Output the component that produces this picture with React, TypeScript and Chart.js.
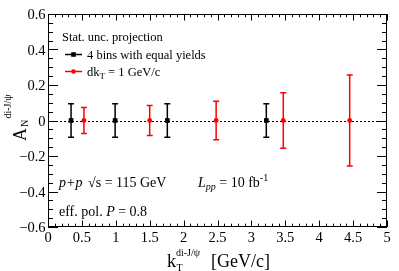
import React, { useEffect, useRef } from "react";
import { Chart, registerables } from "chart.js";

Chart.register(...registerables);

// ---- data ----
const blackX = [0.34, 0.99, 1.76, 3.22];
const blackY = [0, 0, 0, 0];
const blackErr = [0.095, 0.095, 0.095, 0.095];

const redX = [0.53, 1.5, 2.48, 3.47, 4.45];
const redY = [0, 0, 0, 0, 0];
const redErr = [0.073, 0.085, 0.108, 0.157, 0.257];

const xTickValues = [0, 0.5, 1, 1.5, 2, 2.5, 3, 3.5, 4, 4.5, 5];
const xTickLabels = ["0", "0.5", "1", "1.5", "2", "2.5", "3", "3.5", "4", "4.5", "5"];
const yTickValues = [-0.6, -0.4, -0.2, 0, 0.2, 0.4, 0.6];
const yTickLabels = ["\u22120.6", "\u22120.4", "\u22120.2", "0", "0.2", "0.4", "0.6"];

const legendHeader = "Stat. unc. projection";
const legendBlack = "4 bins with equal yields";

const SERIF = '"Liberation Serif", "DejaVu Serif", serif';
const RED = "#ff0000";
const BLACK = "#000000";

function font(size: number, italic = false) {
  return `${italic ? "italic " : ""}${size}px ${SERIF}`;
}

type Seg = { t: string; size: number; italic?: boolean; dy?: number; x?: number };

function drawSegs(ctx: CanvasRenderingContext2D, segs: Seg[], x0: number, y0: number) {
  let x = x0;
  for (const s of segs) {
    if (s.x !== undefined) x = x0 + s.x;
    ctx.font = font(s.size, s.italic);
    ctx.fillText(s.t, x, y0 + (s.dy || 0));
    x += ctx.measureText(s.t).width;
  }
}

const errs: number[][] = [blackErr, redErr];

const framePlugin = {
  id: "rootFrame",
  beforeDatasetsDraw(chart: any) {
    const { ctx, chartArea, scales } = chart;
    const { left, right } = chartArea;
    const xs = scales.x;
    const ys = scales.y;
    ctx.save();
    // dotted zero line
    ctx.setLineDash([2, 2]);
    ctx.lineWidth = 1;
    ctx.strokeStyle = BLACK;
    const y0 = Math.round(ys.getPixelForValue(0)) + 0.5;
    ctx.beginPath();
    ctx.moveTo(left, y0);
    ctx.lineTo(right, y0);
    ctx.stroke();
    ctx.setLineDash([]);
    // error bars
    chart.data.datasets.forEach((ds: any, i: number) => {
      const e = errs[i];
      ctx.strokeStyle = ds.borderColor;
      ctx.lineWidth = 1.5;
      ds.data.forEach((p: any, j: number) => {
        const px = xs.getPixelForValue(p.x);
        const pt = ys.getPixelForValue(p.y + e[j]);
        const pb = ys.getPixelForValue(p.y - e[j]);
        ctx.beginPath();
        ctx.moveTo(px, pt);
        ctx.lineTo(px, pb);
        ctx.moveTo(px - 3, pt);
        ctx.lineTo(px + 3, pt);
        ctx.moveTo(px - 3, pb);
        ctx.lineTo(px + 3, pb);
        ctx.stroke();
      });
    });
    ctx.restore();
  },
  afterDraw(chart: any) {
    const { ctx, chartArea, scales } = chart;
    const { left, right, top, bottom } = chartArea;
    const xs = scales.x;
    const ys = scales.y;
    ctx.save();
    ctx.strokeStyle = BLACK;
    ctx.fillStyle = BLACK;
    ctx.lineWidth = 1;
    // frame
    ctx.strokeRect(left + 0.5, top + 0.5, right - left - 1, bottom - top - 1);
    // x ticks (major every 0.5, minor every 0.1)
    ctx.beginPath();
    for (let i = 0; i <= 50; i++) {
      const px = Math.round(xs.getPixelForValue(i / 10)) + 0.5;
      const len = i % 5 === 0 ? 6.5 : 3.3;
      ctx.moveTo(px, bottom);
      ctx.lineTo(px, bottom - len);
      ctx.moveTo(px, top);
      ctx.lineTo(px, top + len);
    }
    // y ticks (major every 0.2, minor every 0.05)
    for (let i = -12; i <= 12; i++) {
      const py = Math.round(ys.getPixelForValue(i * 0.05)) + 0.5;
      const len = i % 4 === 0 ? 10 : 5;
      ctx.moveTo(left, py);
      ctx.lineTo(left + len, py);
      ctx.moveTo(right, py);
      ctx.lineTo(right - len, py);
    }
    ctx.stroke();

    // tick labels
    ctx.font = font(14.5);
    ctx.textBaseline = "alphabetic";
    ctx.textAlign = "center";
    xTickValues.forEach((v, i) => {
      ctx.fillText(xTickLabels[i], xs.getPixelForValue(v), 242);
    });
    ctx.textAlign = "right";
    yTickValues.forEach((v, i) => {
      ctx.fillText(yTickLabels[i], 45.5, ys.getPixelForValue(v) + 5);
    });
    ctx.textAlign = "left";

    // x title
    drawSegs(ctx, [{ t: "k", size: 18 }], 167, 267);
    drawSegs(ctx, [{ t: "T", size: 10 }], 176.5, 271);
    drawSegs(ctx, [{ t: "di-J/\u03c8", size: 10 }], 176, 256);
    drawSegs(ctx, [{ t: "[GeV/c]", size: 18 }], 211, 267);

    // y title (rotated)
    ctx.save();
    ctx.translate(26, 141);
    ctx.rotate(-Math.PI / 2);
    drawSegs(ctx, [{ t: "A", size: 18 }], 0, 0);
    drawSegs(ctx, [{ t: "N", size: 10 }], 14, 2);
    drawSegs(ctx, [{ t: "di-J/\u03c8", size: 10 }], 22.5, -15);
    ctx.restore();

    // legend
    drawSegs(ctx, [{ t: legendHeader, size: 12.5 }], 62, 41);
    const ds = chart.data.datasets;
    const rows = [
      { y: 54.5, color: ds[0].borderColor, style: "rect" },
      { y: 71.5, color: ds[1].borderColor, style: "circle" },
    ];
    rows.forEach((r) => {
      ctx.strokeStyle = r.color;
      ctx.fillStyle = r.color;
      ctx.lineWidth = 1.5;
      ctx.beginPath();
      ctx.moveTo(65, r.y);
      ctx.lineTo(82, r.y);
      ctx.stroke();
      ctx.beginPath();
      if (r.style === "rect") ctx.rect(71.2, r.y - 2.3, 4.6, 4.6);
      else ctx.arc(73.5, r.y, 2.3, 0, Math.PI * 2);
      ctx.fill();
    });
    ctx.fillStyle = BLACK;
    drawSegs(ctx, [{ t: legendBlack, size: 12.5 }], 87, 58.5);
    drawSegs(
      ctx,
      [
        { t: "dk", size: 12.5 },
        { t: "T", size: 9, dy: 3 },
        { t: " = 1 GeV/c", size: 12.5 },
      ],
      87,
      75.5
    );

    // annotations
    drawSegs(ctx, [{ t: "p+p", size: 14, italic: true }], 59, 187);
    drawSegs(ctx, [{ t: "\u221as = 115 GeV", size: 14 }], 88, 187);
    drawSegs(
      ctx,
      [
        { t: "L", size: 14, italic: true },
        { t: "pp", size: 10, italic: true, dy: 3 },
        { t: " = 10 fb", size: 14 },
        { t: "-1", size: 10, dy: -6 },
      ],
      198,
      187
    );
    drawSegs(
      ctx,
      [
        { t: "eff. pol. ", size: 14 },
        { t: "P", size: 14, italic: true },
        { t: " = 0.8", size: 14 },
      ],
      59,
      216
    );
    ctx.restore();
  },
};

export default function App() {
  const ref = useRef<HTMLCanvasElement | null>(null);
  useEffect(() => {
    if (!ref.current) return;
    const chart = new Chart(ref.current, {
      type: "scatter",
      data: {
        datasets: [
          {
            label: legendBlack,
            data: blackX.map((x, i) => ({ x, y: blackY[i] })),
            borderColor: BLACK,
            backgroundColor: BLACK,
            pointStyle: "rect",
            pointRadius: 3.3,
            borderWidth: 0,
            showLine: false,
          },
          {
            label: "dkT = 1 GeV/c",
            data: redX.map((x, i) => ({ x, y: redY[i] })),
            borderColor: RED,
            backgroundColor: RED,
            pointStyle: "circle",
            pointRadius: 2.4,
            borderWidth: 0,
            showLine: false,
          },
        ],
      },
      options: {
        animation: false,
        responsive: false,
        devicePixelRatio: 1,
        events: [],
        layout: { padding: { left: 48, right: 12, top: 14, bottom: 44 } },
        scales: {
          x: { type: "linear", min: 0, max: 5, display: false },
          y: { type: "linear", min: -0.6, max: 0.6, display: false },
        },
        plugins: {
          legend: { display: false },
          tooltip: { enabled: false },
        },
      },
      plugins: [framePlugin],
    } as any);
    return () => chart.destroy();
  }, []);
  return (
    <div style={{ position: "absolute", left: 0, top: 0, width: 399, height: 271, background: "#fff" }}>
      <canvas ref={ref} width={399} height={271} style={{ display: "block", width: 399, height: 271 }} />
    </div>
  );
}
